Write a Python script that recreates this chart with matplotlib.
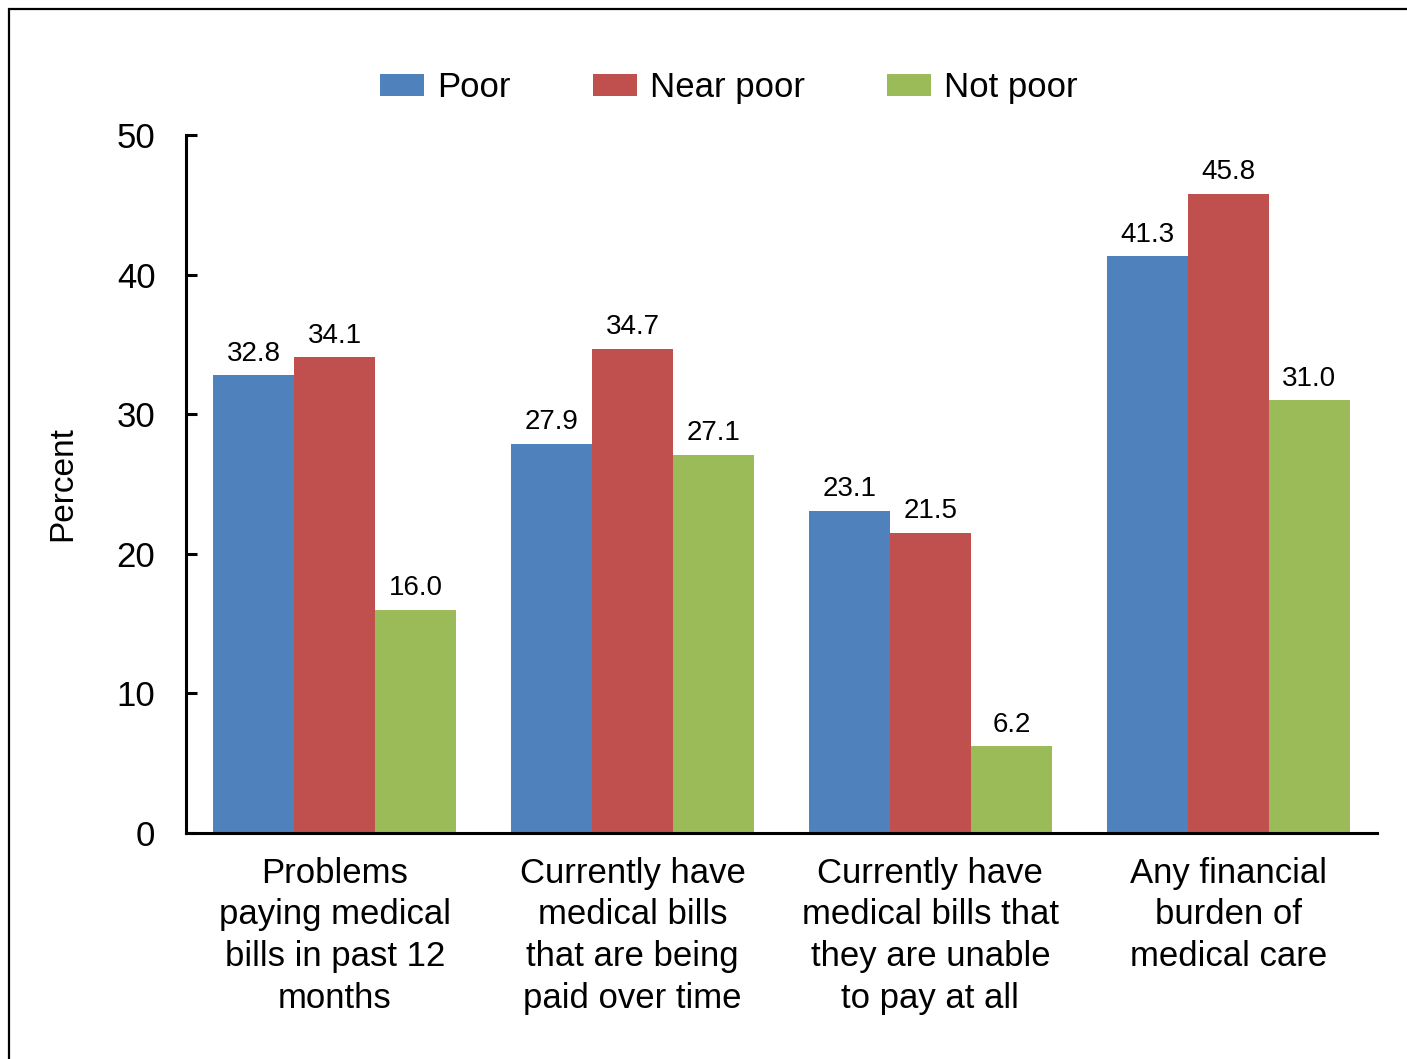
import matplotlib
matplotlib.use("Agg")
import matplotlib.pyplot as plt
import numpy as np
from matplotlib.patches import Rectangle

plt.rcParams['font.family'] = ['Liberation Sans', 'DejaVu Sans']

categories = [
    "Problems\npaying medical\nbills in past 12\nmonths",
    "Currently have\nmedical bills\nthat are being\npaid over time",
    "Currently have\nmedical bills that\nthey are unable\nto pay at all",
    "Any financial\nburden of\nmedical care",
]
series_names = ["Poor", "Near poor", "Not poor"]
poor = [32.8, 27.9, 23.1, 41.3]
near_poor = [34.1, 34.7, 21.5, 45.8]
not_poor = [16.0, 27.1, 6.2, 31.0]
colors = ["#4F81BD", "#C0504D", "#9BBB59"]
yticks = [0, 10, 20, 30, 40, 50]

fig = plt.figure(figsize=(14.07, 10.59), dpi=100)
ax = fig.add_axes([0.1322, 0.2134, 0.8465, 0.6591])

x = np.arange(len(categories))
w = 0.272
for i, (vals, name, col) in enumerate(zip([poor, near_poor, not_poor], series_names, colors)):
    pos = x + (i - 1) * w
    ax.bar(pos, vals, width=w, color=col, label=name, zorder=2)
    for px, v in zip(pos, vals):
        ax.text(px, v + 0.6, f"{v:.1f}", ha="center", va="bottom", fontsize=20)

ax.set_xlim(-0.5, 3.5)
ax.set_ylim(0, 50)
ax.set_yticks(yticks)
ax.set_yticklabels([str(t) for t in yticks], fontsize=25)
ax.set_xticks(x)
ax.set_xticklabels(categories, fontsize=25, linespacing=1.34)
ax.tick_params(axis='x', length=0, pad=17)
ax.tick_params(axis='y', direction='in', length=8, width=2.2, pad=22)
for s in ['top', 'right']:
    ax.spines[s].set_visible(False)
for s in ['left', 'bottom']:
    ax.spines[s].set_linewidth(2.2)
ax.set_ylabel("Percent", fontsize=24, labelpad=28)

fig.legend(loc="center", bbox_to_anchor=(0.518, 0.917), ncol=3, frameon=False,
           fontsize=25, handlelength=1.27, handleheight=0.62, handletextpad=0.38,
           columnspacing=2.35)

# outer frame
fig.patches.append(Rectangle((9 / 1407, -0.05), 1.1, 1 - 9 / 1059 + 0.05,
                             transform=fig.transFigure, fill=False,
                             edgecolor="black", linewidth=1.6))

fig.savefig("out.png", dpi=100)
